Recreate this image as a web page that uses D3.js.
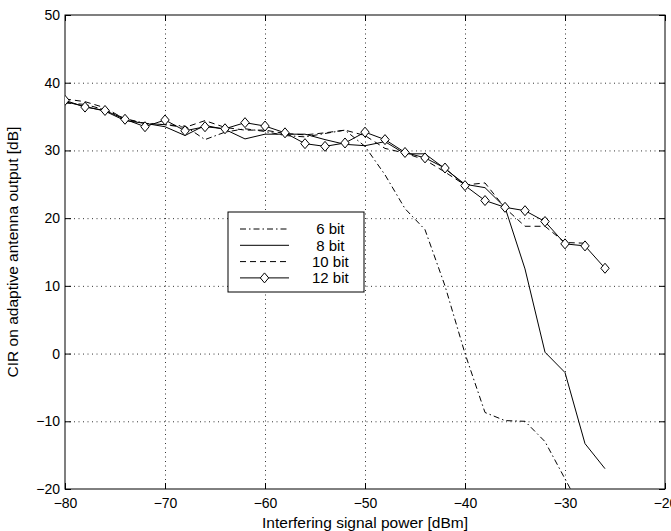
<!DOCTYPE html>
<html lang="en">
<head>
<meta charset="UTF-8">
<title>CIR vs interfering power</title>
<script src="https://d3js.org/d3.v7.min.js"></script>
<style>
    body{ margin:0; background:#fff; }
    .chart{ font-family: "Liberation Sans", Arial, Helvetica, sans-serif; }
    .chart text{ fill:#000; }
    .grid line{ stroke:#000; stroke-width:0.8; stroke-dasharray:1,3.5; }
    .grid .domain{ display:none; }
    .axis .domain{ display:none; }
    .axis line{ stroke:#000; stroke-width:1; }
    .series{ fill:none; stroke:#000; stroke-width:1; }
</style>
</head>
<body>
<svg class="chart"></svg>
<script>
// interfering signal power [dBm]
const power = [-80,-78,-76,-74,-72,-70,-68,-66,-64,-62,-60,-58,-56,-54,-52,-50,-48,-46,-44,-42,-40,-38,-36,-34,-32,-30,-28,-26];

// CIR [dB] per quantisation
const bit6  = [37.0,36.8,36.0,34.7,34.0,33.8,33.6,31.6,32.7,33.2,32.8,32.2,32.0,32.5,33.0,30.6,26.4,21.4,18.3,10.0,0.0,-8.7,-9.9,-10.0,-13.0,-18.5,-24.0,null];
const bit8  = [37.2,36.5,35.8,34.4,34.0,33.5,32.2,33.7,33.1,31.7,32.4,32.4,32.4,31.6,30.9,30.7,31.3,29.5,29.5,27.3,25.0,24.5,21.6,12.5,0.2,-2.8,-13.3,-17.0];
const bit10 = [37.6,37.2,36.3,34.6,34.0,33.8,33.4,34.4,33.4,33.0,33.0,32.5,32.3,32.6,33.0,32.2,30.3,29.6,28.6,26.8,24.9,25.2,21.5,18.8,18.8,16.4,16.3,null];
const bit12 = [37.4,36.4,35.9,34.6,33.5,34.5,32.9,33.5,33.2,34.1,33.6,32.6,31.0,30.6,31.1,32.7,31.6,29.7,28.9,27.4,24.8,22.6,21.6,21.1,19.5,16.2,15.9,12.6];

const seriesNames = ['6 bit','8 bit','10 bit','12 bit'];
const xTicks = [-80,-70,-60,-50,-40,-30,-20];
const yTicks = [-20,-10,0,10,20,30,40,50];

const W = 671, H = 531;
const margin = {top:15, right:6, bottom:42, left:65};
const width = W - margin.left - margin.right;
const height = H - margin.top - margin.bottom;

const x = d3.scaleLinear().domain([-80,-20]).range([0,width]);
const y = d3.scaleLinear().domain([-20,50]).range([height,0]);

const svg = d3.select('.chart').attr('width',W).attr('height',H);
const chart = svg.append('g').attr('transform','translate('+margin.left+','+margin.top+')');

svg.append('defs').append('clipPath').attr('id','plotclip')
    .append('rect').attr('width',width).attr('height',height);

// dotted grid
chart.append('g').attr('class','grid')
    .attr('transform','translate(0,'+height+')')
    .call(d3.axisBottom(x).tickValues(xTicks.slice(1,-1)).tickSize(-height).tickFormat(''));
chart.append('g').attr('class','grid')
    .call(d3.axisLeft(y).tickValues(yTicks.slice(1,-1)).tickSize(-width).tickFormat(''));

// axes, ticks pointing inwards on all four sides
chart.append('g').attr('class','axis')
    .attr('transform','translate(0,'+height+')')
    .call(d3.axisBottom(x).tickValues(xTicks).tickSizeInner(-6).tickSizeOuter(0).tickPadding(9))
    .selectAll('text').style('font-size','14px');
chart.append('g').attr('class','axis')
    .call(d3.axisLeft(y).tickValues(yTicks).tickSizeInner(-6).tickSizeOuter(0).tickPadding(5))
    .selectAll('text').style('font-size','14px');
chart.append('g').attr('class','axis')
    .call(d3.axisTop(x).tickValues(xTicks).tickSizeInner(-6).tickSizeOuter(0).tickFormat(''));
chart.append('g').attr('class','axis')
    .attr('transform','translate('+width+',0)')
    .call(d3.axisRight(y).tickValues(yTicks).tickSizeInner(-6).tickSizeOuter(0).tickFormat(''));

chart.append('rect')
    .attr('width',width).attr('height',height)
    .attr('fill','none').attr('stroke','#000').attr('stroke-width',1);

// series
const line = d3.line()
    .defined(d => d[1] !== null)
    .x(d => x(d[0]))
    .y(d => y(d[1]));

const dashes = ['6,3,1.5,3', null, '6,4', null];
const allData = [bit6, bit8, bit10, bit12];

const plot = chart.append('g').attr('clip-path','url(#plotclip)');
allData.forEach((vals,i) => {
    const pts = power.map((p,j) => [p, vals[j]]);
    plot.append('path')
        .datum(pts)
        .attr('class','series')
        .attr('stroke-dasharray', dashes[i])
        .attr('d', line);
});

const diamond = 'M0,-5L4.2,0L0,5L-4.2,0Z';
plot.selectAll('.marker')
    .data(power.map((p,j) => [p, bit12[j]]))
    .enter().append('path')
    .attr('class','marker')
    .attr('d', diamond)
    .attr('transform', d => 'translate('+x(d[0])+','+y(d[1])+')')
    .attr('fill','#fff').attr('stroke','#000').attr('stroke-width',1);

// axis titles
chart.append('text')
    .attr('x', width/2).attr('y', height + 39)
    .attr('text-anchor','middle')
    .style('font-size','15.5px')
    .text('Interfering signal power [dBm]');
chart.append('text')
    .attr('transform','rotate(-90)')
    .attr('x', -height/2).attr('y', -47)
    .attr('text-anchor','middle')
    .style('font-size','15.5px')
    .text('CIR on adaptive antenna output [dB]');

// legend
const legend = svg.append('g').attr('transform','translate(228,212)');
legend.append('rect')
    .attr('width',136).attr('height',80)
    .attr('fill','#fff').attr('stroke','#000').attr('stroke-width',1);
seriesNames.forEach((name,i) => {
    const ly = 17 + i*16.3;
    legend.append('line')
        .attr('x1',12).attr('x2',61).attr('y1',ly).attr('y2',ly)
        .attr('stroke','#000').attr('stroke-width',1)
        .attr('stroke-dasharray', dashes[i]);
    if(i === 3){
        legend.append('path').attr('d',diamond)
            .attr('transform','translate(36.5,'+ly+')')
            .attr('fill','#fff').attr('stroke','#000');
    }
    // single-digit labels are padded by one space, as in the original legend
    legend.append('text')
        .attr('x',84).attr('y',ly).attr('dy','0.35em')
        .style('font-size','15px')
        .style('white-space','pre')
        .text(name.length < 6 ? '\u00a0' + name : name);
});
</script>
</body>
</html>
